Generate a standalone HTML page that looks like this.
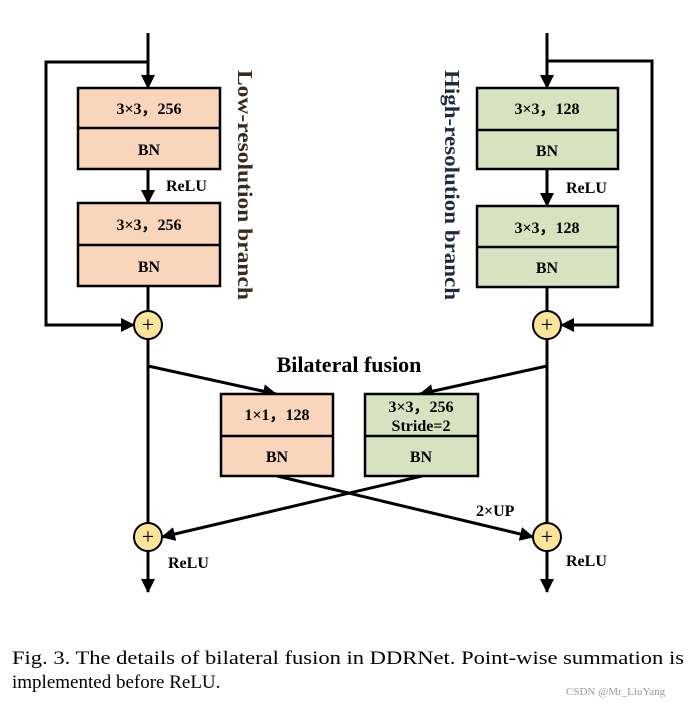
<!DOCTYPE html>
<html><head><meta charset="utf-8"><style>
body{margin:0;background:#fff;}
svg{display:block;}
text{font-family:"Liberation Serif",serif;}
</style></head><body>
<svg width="695" height="703" viewBox="0 0 695 703" xmlns="http://www.w3.org/2000/svg">
<defs>
<marker id="b" markerWidth="14" markerHeight="14" refX="13" refY="7" orient="auto" markerUnits="userSpaceOnUse"><path d="M0,0 L14,7 L0,14 Z" fill="#000"/></marker>
</defs>
<g stroke="#000" stroke-width="3" fill="none">
<line x1="148" y1="33" x2="148" y2="88" marker-end="url(#b)"/>
<polyline points="148,62 46,62 46,325 134,325" marker-end="url(#b)"/>
<line x1="148" y1="169" x2="148" y2="203" marker-end="url(#b)"/>
<line x1="148" y1="286" x2="148" y2="311"/>
<line x1="148" y1="339" x2="148" y2="523"/>
<line x1="148" y1="551" x2="148" y2="592" marker-end="url(#b)"/>
<line x1="547" y1="33" x2="547" y2="88" marker-end="url(#b)"/>
<polyline points="547,61 652,61 652,325 561,325" marker-end="url(#b)"/>
<line x1="547" y1="169" x2="547" y2="206" marker-end="url(#b)"/>
<line x1="547" y1="287" x2="547" y2="311"/>
<line x1="547" y1="339" x2="547" y2="523"/>
<line x1="547" y1="551" x2="547" y2="592" marker-end="url(#b)"/>
<line x1="148" y1="366" x2="276" y2="394" marker-end="url(#b)"/>
<line x1="547" y1="366" x2="420" y2="394" marker-end="url(#b)"/>
<line x1="277" y1="476" x2="533" y2="537" marker-end="url(#b)"/>
<line x1="422" y1="476" x2="162" y2="537" marker-end="url(#b)"/>
</g>
<g stroke="#000" stroke-width="2.5">
<rect x="78" y="88" width="142" height="81" fill="#f8d5bb"/><line x1="78" y1="128" x2="220" y2="128"/>
<rect x="78" y="203" width="142" height="83" fill="#f8d5bb"/><line x1="78" y1="245" x2="220" y2="245"/>
<rect x="477" y="88" width="141" height="81" fill="#d7e3c0"/><line x1="477" y1="130" x2="618" y2="130"/>
<rect x="477" y="206" width="141" height="81" fill="#d7e3c0"/><line x1="477" y1="247" x2="618" y2="247"/>
<rect x="221" y="394" width="112" height="82" fill="#f8d5bb"/><line x1="221" y1="436" x2="333" y2="436"/>
<rect x="365" y="394" width="113" height="82" fill="#d7e3c0"/><line x1="365" y1="436" x2="478" y2="436"/>
</g>
<g stroke="#000" stroke-width="2" fill="#fce49b">
<circle cx="148" cy="325" r="14"/><circle cx="547" cy="325" r="14"/>
<circle cx="148" cy="537" r="14"/><circle cx="547" cy="537" r="14"/>
</g>
<g font-size="22" text-anchor="middle" fill="#000"><text x="148" y="332">+</text><text x="547" y="332">+</text><text x="148" y="544">+</text><text x="547" y="544">+</text></g>
<g font-weight="bold" font-size="16" text-anchor="middle" fill="#000">
<text x="149" y="114">3×3，256</text><text x="149" y="155">BN</text>
<text x="149" y="230">3×3，256</text><text x="149" y="272">BN</text>
<text x="547" y="114">3×3，128</text><text x="547" y="156">BN</text>
<text x="547" y="233">3×3，128</text><text x="547" y="273">BN</text>
<text x="277" y="420">1×1，128</text><text x="277" y="462">BN</text>
<text x="421" y="412">3×3，256</text><text x="421" y="431">Stride=2</text><text x="421" y="462">BN</text>
</g>
<g font-weight="bold" font-size="16" fill="#000">
<text x="166" y="191">ReLU</text><text x="566" y="193">ReLU</text>
<text x="168" y="568">ReLU</text><text x="566" y="566">ReLU</text>
<text x="476" y="516">2×UP</text>
</g>
<text x="349" y="372" font-weight="bold" font-size="22" text-anchor="middle">Bilateral fusion</text>
<text transform="translate(238,185) rotate(90)" font-weight="bold" font-size="21" text-anchor="middle" fill="#3b2a1c" textLength="230" lengthAdjust="spacingAndGlyphs">Low-resolution branch</text>
<text transform="translate(445,185) rotate(90)" font-weight="bold" font-size="21" text-anchor="middle" fill="#1f2940" textLength="230" lengthAdjust="spacingAndGlyphs">High-resolution branch</text>
<text x="12" y="664" font-size="19" textLength="672" lengthAdjust="spacingAndGlyphs">Fig. 3.  The details of bilateral fusion in DDRNet. Point-wise summation is</text>
<text x="12" y="688" font-size="19">implemented before ReLU.</text>
<text x="566" y="695" font-size="11" fill="#999" font-family="Liberation Sans,sans-serif">CSDN @Mr_LiuYang</text>
</svg>
</body></html>
